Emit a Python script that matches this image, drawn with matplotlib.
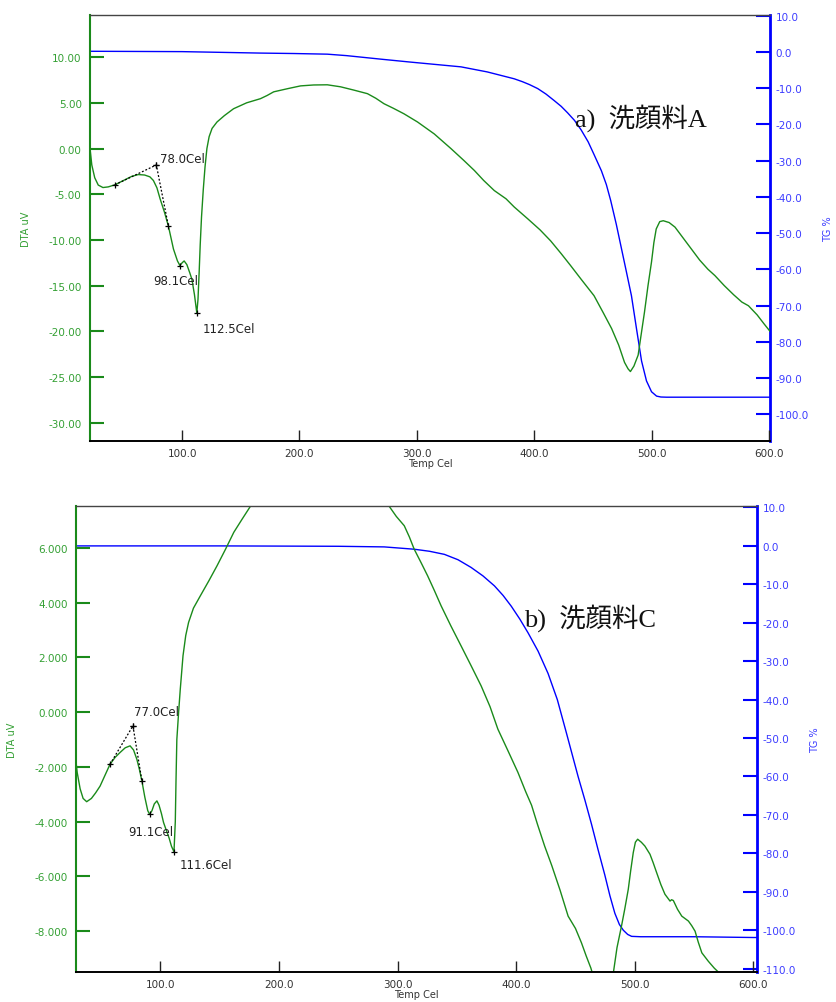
import numpy as np
from matplotlib import pyplot as plt
from matplotlib.ticker import FormatStrFormatter

plt.rcParams['font.family'] = ['DejaVu Sans']
plt.rcParams['axes.unicode_minus'] = False

# a) 洗顔料A : DTA signal (uV) against temperature (Cel)
temp_a_dta = [21.5, 23, 25.5, 28.5, 32.5, 37, 42.7, 50, 57, 62.6, 68, 72.5, 75.5, 78.5,
              81.2, 85, 88.3, 92.6, 96, 98.1, 100, 101.7, 104, 106.5, 108.3, 110.5, 112.5,
              113.5, 114.5, 115.4, 116.5, 118, 119.5, 121.1, 123, 125.5, 129.7, 136, 143.8,
              155, 166.7, 172.4, 178, 190, 200.9, 212, 223.7, 235, 246, 257.9, 265, 272,
              280, 289, 300.6, 314.8, 329, 340, 349, 357, 366, 376, 383, 394.6, 405, 414,
              423, 431, 440, 451, 459, 466, 472, 477, 480, 482, 485, 488.6, 491, 494, 497,
              500, 502, 504, 507, 510, 515, 520, 527, 534, 541, 548, 554, 562, 570, 577,
              582.6, 590, 596, 601]
dta_a = [0.0, -1.8, -3.2, -4.0, -4.27, -4.2, -3.97, -3.5, -3.05, -2.85, -2.9, -3.1, -3.5, -4.3,
         -5.5, -7.0, -8.5, -11.0, -12.3, -12.8, -12.5, -12.3, -12.7, -13.6, -14.3, -16.0, -18.0,
         -16.5, -13.5, -10.5, -7.5, -4.5, -2.0, 0.0, 1.3, 2.2, 2.9, 3.6, 4.35,
         5.0, 5.45, 5.8, 6.2, 6.55, 6.85, 6.95, 6.97, 6.75, 6.4, 6.0, 5.5, 4.9,
         4.4, 3.8, 2.9, 1.6, 0.0, -1.3, -2.4, -3.5, -4.6, -5.5, -6.4, -7.7, -8.9, -10.1,
         -11.5, -12.8, -14.3, -16.1, -18.0, -19.7, -21.5, -23.4, -24.1, -24.4, -23.8, -22.6, -20.5, -17.9, -15.0,
         -12.4, -10.3, -8.8, -8.0, -7.9, -8.1, -8.6, -9.8, -11.0, -12.2, -13.2, -13.9, -15.0, -16.0, -16.8,
         -17.2, -18.2, -19.2, -20.0]

# a) TG mass change (%)
temp_a_tg = [21.5, 100, 166.7, 195, 223.7, 240, 252, 270, 295, 337.6, 360, 383, 390, 396,
             403, 410, 417, 423, 428.5, 434.4, 440, 446, 451, 457.3, 461.5, 465.2, 470,
             474.4, 478.6, 482.9, 487.2, 491.5, 495.7, 500, 504.3, 508, 512.8, 600, 601]
tg_a = [0.2, 0.1, -0.3, -0.42, -0.6, -1.0, -1.4, -2.0, -2.8, -4.1, -5.5, -7.4, -8.2, -9.0,
        -10.1, -11.6, -13.4, -15.0, -16.8, -18.9, -21.5, -24.8, -28.3, -32.8, -36.6, -41.0, -47.6,
        -54.3, -60.7, -67.3, -76.4, -85.3, -90.8, -93.8, -95.0, -95.25, -95.3, -95.3, -95.3]

# a) onset construction and picked minima
tangent_a_temp = [42.7, 78.0, 88.3]
tangent_a_dta = [-3.97, -1.8, -8.5]
peaks_a_temp = [78.0, 98.1, 112.5]
peaks_a_dta = [-1.8, -12.8, -18.0]

# b) 洗顔料C : DTA signal (uV) against temperature (Cel)
temp_c_dta = [29, 30, 32.5, 35, 38, 42, 45.5, 49.3, 53.5, 57.7, 62, 66.2, 70.5, 74.6, 77.5,
              80.3, 82.5, 84.5, 87, 89.5, 91.1, 93, 95, 97.2, 99, 101, 102.8, 105, 107.5,
              109.5, 111.6, 112.7, 113.3, 114, 115.5, 116.9, 119.2, 121.5, 123.9, 128, 133.8,
              141, 147.9, 155, 162, 169, 176, 185, 200, 220, 240, 260, 280, 293, 299, 305.7,
              310, 314, 320, 325.4, 331, 336.7, 345, 353.6, 362, 370.5, 378, 384.6, 393,
              401.5, 408, 413, 418, 424, 430, 437, 443.8, 450, 455, 459, 463, 466, 472, 478,
              482, 485, 488.8, 491.5, 494.5, 496.5, 498.7, 500.5, 502.4, 505.5, 508.5, 512.8,
              515.5, 518.4, 522, 525.4, 529.7, 531, 532.5, 536, 539.6, 545.2, 548, 550.8,
              553.5, 556.5, 562, 567, 570.6, 580, 600, 603]
dta_c = [-1.8, -2.2, -2.8, -3.15, -3.27, -3.15, -2.95, -2.7, -2.3, -1.9, -1.65, -1.47, -1.3, -1.23, -1.38,
         -1.72, -2.1, -2.5, -3.1, -3.6, -3.73, -3.6, -3.35, -3.24, -3.4, -3.7, -4.03, -4.3, -4.6,
         -4.9, -5.1, -4.0, -2.5, -1.0, 0.0, 0.84, 2.06, 2.8, 3.28, 3.8, 4.25,
         4.8, 5.35, 5.95, 6.57, 7.05, 7.52, 8.1, 8.9, 9.4, 9.5, 9.2, 8.5, 7.52, 7.15, 6.81,
         6.4, 5.96, 5.45, 4.98, 4.45, 3.89, 3.15, 2.42, 1.7, 0.96, 0.2, -0.62, -1.4,
         -2.2, -2.9, -3.4, -4.1, -4.89, -5.6, -6.5, -7.45, -7.9, -8.42, -8.9, -9.35, -9.8, -10.5, -10.3,
         -9.5, -8.6, -7.81, -7.2, -6.47, -5.8, -5.13, -4.75, -4.64, -4.75, -4.89, -5.19,
         -5.5, -5.86, -6.3, -6.65, -6.9, -6.85, -6.88, -7.2, -7.45, -7.63, -7.8, -8.0,
         -8.4, -8.79, -9.1, -9.35, -9.5, -9.9, -10.6, -10.7]

# b) TG mass change (%)
temp_c_tg = [29, 150, 250, 288.8, 314, 327, 339.5, 351, 362, 372, 381.7, 389, 395.9, 403,
             410, 418.5, 426.9, 434.7, 442.3, 452.2, 458, 463.5, 469, 474.7, 479, 483.2, 487,
             490.3, 494, 497.3, 505, 550, 600, 603]
tg_c = [0.0, 0.0, -0.1, -0.26, -0.86, -1.4, -2.2, -3.6, -5.6, -7.8, -10.4, -12.9, -15.7, -19.0,
        -22.6, -27.4, -33.2, -40.0, -48.6, -60.0, -66.2, -72.4, -79.0, -85.6, -91.0, -95.6, -98.5,
        -100.0, -101.1, -101.6, -101.7, -101.7, -101.9, -101.9]

# b) onset construction and picked minima
tangent_c_temp = [57.7, 77.0, 84.5]
tangent_c_dta = [-1.9, -0.5, -2.5]
peaks_c_temp = [77.0, 91.1, 111.6]
peaks_c_dta = [-0.5, -3.73, -5.1]

GREEN = '#1a8a1a'
GREEN_TXT = '#34a034'
BLUE = '#0000ff'
BLUE_TXT = '#3c3cff'

"""
One DTA/TG panel: DTA on the left axis, TG on a twin right axis
"""
def draw_panel(fig, rect, t_dta, dta, t_tg, tg, tan_t, tan_d, pk_t, pk_d, label_offsets,
               xlim, ylim_dta, ylim_tg, dta_ticks, dta_fmt, tg_ticks, title, title_pos):
    ax = fig.add_axes(rect)
    ax2 = ax.twinx()

    ax2.plot(t_tg, tg, color=BLUE, lw=1.0)
    ax.plot(t_dta, dta, color=GREEN, lw=1.0)
    ax.set_zorder(ax2.get_zorder() + 1)
    ax.patch.set_visible(False)

    # tangent construction for the first event
    ax.plot(tan_t, tan_d, color='black', ls=(0, (1.5, 1.5)), lw=0.9)
    ax.plot(tan_t, tan_d, color='black', ls='none', marker='+', ms=5, mew=0.9)
    ax.plot(pk_t, pk_d, color='black', ls='none', marker='+', ms=4, mew=0.9)
    for t, d, off in zip(pk_t, pk_d, label_offsets):
        ax.annotate('%.1fCel' % t, xy=(t, d), xytext=off, textcoords='offset points',
                    ha='left', va='center', fontsize=8.5, color='#222222')

    ax.set_xlim(*xlim)
    ax.set_ylim(*ylim_dta)
    ax2.set_ylim(*ylim_tg)

    ax.set_xticks([100, 200, 300, 400, 500, 600])
    ax.xaxis.set_major_formatter(FormatStrFormatter('%.1f'))
    ax.set_yticks(dta_ticks)
    ax.yaxis.set_major_formatter(FormatStrFormatter(dta_fmt))
    ax2.set_yticks(tg_ticks)
    ax2.yaxis.set_major_formatter(FormatStrFormatter('%.1f'))

    ax.tick_params(axis='x', direction='in', length=8, width=1.0, color='#222222',
                   labelcolor='#333333', labelsize=7.5, pad=5)
    ax.tick_params(axis='y', direction='in', length=10, width=1.5, color=GREEN,
                   labelcolor=GREEN_TXT, labelsize=7.5, pad=6)
    ax2.tick_params(axis='y', direction='in', length=10, width=1.5, color=BLUE,
                    labelcolor=BLUE_TXT, labelsize=7.5, pad=4)

    ax2.spines['top'].set_visible(False)
    ax2.spines['left'].set_visible(False)
    ax2.spines['bottom'].set_visible(False)
    ax2.spines['right'].set_color(BLUE)
    ax2.spines['right'].set_linewidth(2.0)
    ax.spines['right'].set_visible(False)
    ax.spines['top'].set_color('#444444')
    ax.spines['top'].set_linewidth(1.0)
    ax.spines['left'].set_color(GREEN)
    ax.spines['left'].set_linewidth(1.5)
    ax.spines['bottom'].set_color('black')
    ax.spines['bottom'].set_linewidth(1.4)

    ax.set_xlabel('Temp Cel', fontsize=7, color='#333333', labelpad=0)
    ax.set_ylabel('DTA uV', fontsize=7, color=GREEN_TXT)
    ax.yaxis.set_label_coords(-0.087, 0.5)
    ax2.set_ylabel('TG %', fontsize=7, color=BLUE_TXT)
    ax2.yaxis.set_label_coords(1.078, 0.5)

    ax.text(title_pos[0], title_pos[1], title, transform=ax.transAxes, fontsize=19,
            ha='left', va='center', color='#111111',
            family=['Liberation Serif', 'Noto Sans CJK JP'])
    return ax, ax2


fig = plt.figure(figsize=(8.36, 10.03), dpi=100)

draw_panel(fig, [0.1077, 0.5593, 0.8134, 0.4247],
           temp_a_dta, dta_a, temp_a_tg, tg_a,
           tangent_a_temp, tangent_a_dta, peaks_a_temp, peaks_a_dta,
           [(2.5, 5), (-19, -11), (4, -11)],
           (21.5, 601), (-32, 14.6), (-107.4, 10.2),
           np.arange(-30, 11, 5), '%.2f', np.arange(-100, 11, 10),
           'a)  洗顔料A', (0.713, 0.76))

draw_panel(fig, [0.0909, 0.0302, 0.8146, 0.4640],
           temp_c_dta, dta_c, temp_c_tg, tg_c,
           tangent_c_temp, tangent_c_dta, peaks_c_temp, peaks_c_dta,
           [(1, 10), (-15.5, -12.5), (4, -9)],
           (29, 603), (-9.48, 7.52), (-110.8, 10.3),
           np.arange(-8, 7, 2), '%.3f', np.arange(-110, 11, 10),
           'b)  洗顔料C', (0.658, 0.762))

plt.savefig('out.png', dpi=100)
